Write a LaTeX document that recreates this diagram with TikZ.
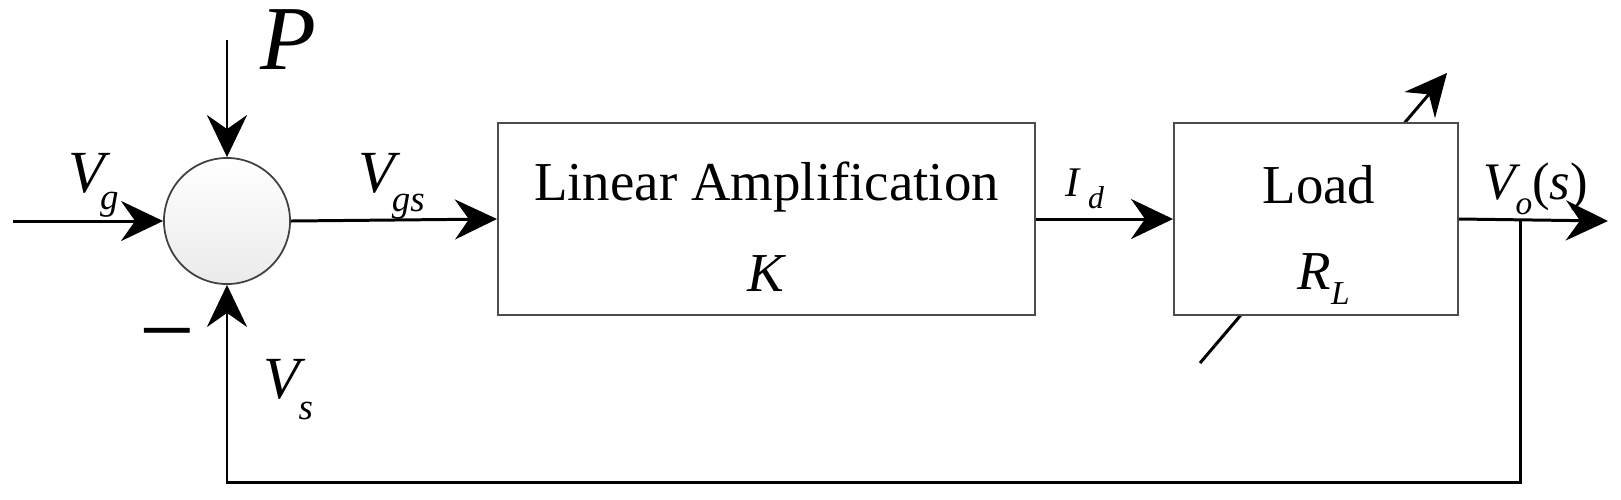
\documentclass[tikz,border=0pt]{standalone}
\usepackage{fontspec}
\setmainfont{Liberation Serif}
\usetikzlibrary{arrows.meta, positioning, calc, backgrounds}

\newcommand{\lowsub}[3]{\raisebox{-#2}{\fontsize{#1}{#1}\selectfont\itshape #3}}

\begin{document}
\begin{tikzpicture}[x=0.01cm, y=-0.01cm, line width=0.85pt,
  sig/.style={line width=0.85pt, -{Stealth[length=0.42cm, width=0.4cm, inset=0.14cm]}},
  block/.style={draw=black!70, line width=0.5pt, fill=white, minimum width=#1, minimum height=1.92cm, inner sep=0pt},
  lbl/.style={anchor=base west, inner sep=0pt},
  intext/.style={anchor=base, inner sep=0pt, font=\fontsize{15.6}{18}\selectfont}]
  \useasboundingbox (0,0) rectangle (1621,499);
  \node[circle, draw=black!75, line width=0.5pt, top color=white, bottom color=gray!16, minimum size=1.26cm, inner sep=0pt] (sum) at (227,221) {};
  \node[block=5.37cm] (amp) at (766.5,219) {};
  \node[block=2.84cm] (load) at (1316,219) {};
  \node[intext] (amp_name) at ($(amp.center)+(0,-19)$) {Linear Amplification};
  \node[intext] (amp_gain) at ($(amp.center)+(0,72)$) {\textit{K}};
  \node[intext] (load_name) at ($(load.center)+(3,-16)$) {Load};
  \node[lbl, font=\fontsize{15.6}{18}\selectfont] (load_val) at (1296,289) {\textit{R}\lowsub{9.5}{4.5pt}{L}};
  % signal points
  \coordinate (vg_in) at (13,221);
  \coordinate (p_in) at (227,40);
  \coordinate (tap) at (1520,221);
  \coordinate (vo_out) at (1608,221);
  \coordinate (fb) at (227,482);
  \coordinate (rl_lo) at (1200,363);
  \coordinate (rl_hi) at (1447,73);
  \begin{scope}[on background layer]
    \draw[sig] (rl_lo) -- (rl_hi);
  \end{scope}
  \draw[sig] (vg_in) -- (sum.west);
  \draw[sig] (p_in) -- (sum.north);
  \draw[sig] (sum.east) -- (amp.west);
  \draw[sig] (amp.east) -- (load.west);
  \draw[sig] (load.east) -- (vo_out);
  \draw[sig] (tap) |- (fb) -- (sum.south);
  % labels
  \node[lbl, font=\fontsize{17}{20}\selectfont] (vg) at (67,192) {\textit{V}\kern-3pt\lowsub{10.5}{5pt}{g}};
  \node[lbl, font=\fontsize{26}{30}\selectfont] (p) at (259,69) {\textit{P}};
  \node[lbl, font=\fontsize{17}{20}\selectfont] (vgs) at (357,192) {\textit{V}\kern-2.5pt\lowsub{10.5}{5.5pt}{gs}};
  \node[lbl, font=\fontsize{17}{20}\selectfont] (vs) at (262,398) {\textit{V}\kern-2pt\lowsub{10.5}{6pt}{s}};
  \node[anchor=base, inner sep=0pt, font=\fontsize{28}{32}\selectfont] (minus) at (167,363) {−};
  \node[lbl, font=\fontsize{12}{14}\selectfont] (id) at (1064,196) {\textit{I}\,\lowsub{9}{3.5pt}{d}};
  \node[lbl, font=\fontsize{15}{18}\selectfont] (vo) at (1482,199) {\textit{V}\kern-1.5pt\lowsub{9.5}{4.5pt}{o}(\textit{s})};
\end{tikzpicture}
\end{document}
